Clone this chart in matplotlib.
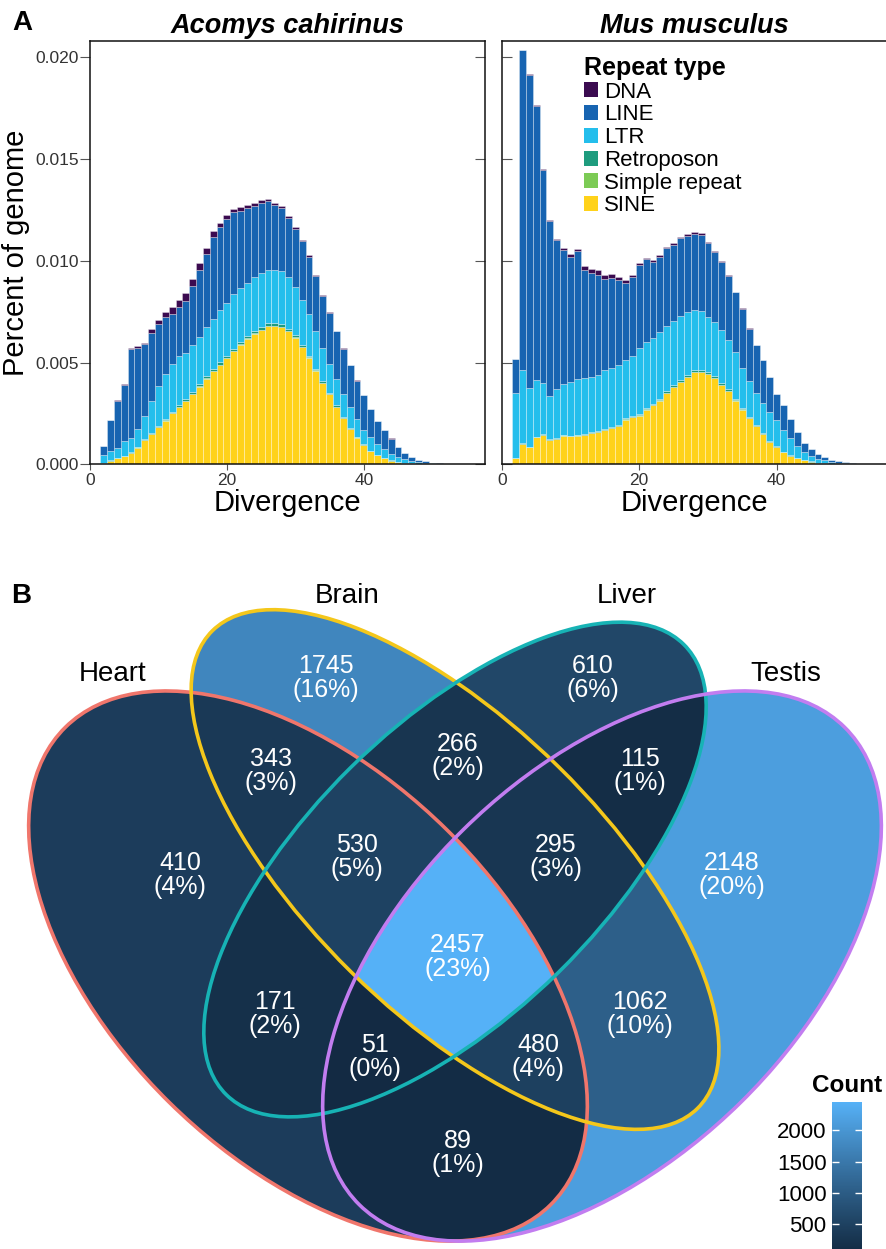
import numpy as np
import matplotlib
matplotlib.use("Agg")
import matplotlib.pyplot as plt
from matplotlib.patches import Ellipse, Patch
from matplotlib.colors import ListedColormap, Normalize

plt.rcParams['font.family'] = ['Liberation Sans', 'DejaVu Sans']

# ---------------- DATA ----------------
divergence = np.arange(2, 56)
repeat_types = ['DNA', 'LINE', 'LTR', 'Retroposon', 'Simple repeat', 'SINE']
species = ['Acomys cahirinus', 'Mus musculus']

# values in units of 1e-3 (fraction of genome), one per divergence bin 2..55
aco_sine = [0.08, 0.18, 0.29, 0.40, 0.56, 0.82, 1.18, 1.50, 1.82, 2.15, 2.50, 2.82, 3.11, 3.44,
            3.82, 4.21, 4.56, 4.89, 5.21, 5.56, 5.88, 6.18, 6.42, 6.61, 6.79, 6.79, 6.74, 6.53,
            6.23, 5.77, 5.24, 4.60, 4.00, 3.44, 2.82, 2.26, 1.74, 1.31, 0.94, 0.65, 0.45, 0.29,
            0.18, 0.11, 0.07, 0.04, 0.03, 0.02, 0.01, 0.01, 0.0, 0.0, 0.0, 0.0]
aco_simple = [0.0, 0.0, 0.0, 0.01, 0.01, 0.01, 0.01, 0.01, 0.01, 0.01, 0.01, 0.01, 0.01, 0.01,
              0.01, 0.01, 0.01, 0.01, 0.01, 0.01, 0.01, 0.01, 0.01, 0.01, 0.01, 0.01, 0.01, 0.01,
              0.01, 0.01, 0.01, 0.01, 0.01, 0.01, 0.01, 0.01, 0.01, 0.01, 0.01, 0.0, 0.0, 0.0,
              0.0, 0.0, 0.0, 0.0, 0.0, 0.0, 0.0, 0.0, 0.0, 0.0, 0.0, 0.0]
aco_retro = [0.0, 0.01, 0.01, 0.02, 0.02, 0.03, 0.04, 0.05, 0.05, 0.06, 0.07, 0.08, 0.08, 0.09,
             0.10, 0.10, 0.11, 0.11, 0.12, 0.12, 0.12, 0.12, 0.12, 0.12, 0.12, 0.12, 0.12, 0.11,
             0.11, 0.10, 0.09, 0.09, 0.08, 0.07, 0.06, 0.05, 0.04, 0.03, 0.03, 0.02, 0.02, 0.01,
             0.01, 0.01, 0.0, 0.0, 0.0, 0.0, 0.0, 0.0, 0.0, 0.0, 0.0, 0.0]
aco_ltr = [0.37, 0.47, 0.52, 0.73, 0.68, 0.89, 1.13, 1.53, 1.97, 2.24, 2.35, 2.39, 2.29, 2.34,
           2.31, 2.43, 2.48, 2.55, 2.59, 2.67, 2.63, 2.62, 2.67, 2.67, 2.65, 2.65, 2.61, 2.55,
           2.37, 2.19, 2.06, 1.84, 1.61, 1.41, 1.28, 1.13, 1.01, 0.89, 0.69, 0.67, 0.55, 0.47,
           0.34, 0.25, 0.17, 0.11, 0.07, 0.04, 0.03, 0.01, 0.01, 0.01, 0.005, 0.005]
aco_line = [0.43, 1.50, 2.31, 2.75, 4.39, 3.98, 3.54, 3.35, 3.03, 2.76, 2.47, 2.41, 2.55, 2.87,
            3.29, 3.58, 3.99, 4.08, 4.12, 4.02, 3.80, 3.64, 3.49, 3.43, 3.35, 3.18, 3.12, 2.92,
            2.84, 2.90, 2.80, 2.69, 2.58, 2.51, 2.36, 2.23, 2.08, 1.87, 1.72, 1.37, 1.11, 0.90,
            0.73, 0.47, 0.31, 0.20, 0.11, 0.08, 0.04, 0.03, 0.02, 0.01, 0.005, 0.005]
aco_dna = [0.02, 0.02, 0.03, 0.03, 0.05, 0.06, 0.08, 0.20, 0.22, 0.27, 0.32, 0.35, 0.37, 0.35,
           0.34, 0.32, 0.29, 0.23, 0.21, 0.16, 0.19, 0.16, 0.14, 0.13, 0.12, 0.11, 0.10, 0.09,
           0.08, 0.07, 0.06, 0.05, 0.04, 0.04, 0.03, 0.03, 0.02, 0.02, 0.02, 0.01, 0.01, 0.01,
           0.01, 0.01, 0.0, 0.0, 0.0, 0.0, 0.0, 0.0, 0.0, 0.0, 0.0, 0.0]

mus_sine = [0.32, 1.00, 0.84, 1.33, 1.44, 1.20, 1.25, 1.41, 1.38, 1.41, 1.44, 1.54, 1.60, 1.68,
            1.76, 1.89, 2.20, 2.31, 2.39, 2.69, 2.89, 3.13, 3.51, 3.79, 4.03, 4.28, 4.52, 4.52,
            4.43, 4.25, 3.90, 3.59, 3.13, 2.69, 2.26, 1.87, 1.50, 1.11, 0.84, 0.59, 0.43, 0.30,
            0.20, 0.13, 0.08, 0.05, 0.03, 0.02, 0.01, 0.01, 0.0, 0.0, 0.0, 0.0]
mus_simple = [0.0, 0.01, 0.01, 0.01, 0.01, 0.01, 0.01, 0.01, 0.01, 0.01, 0.01, 0.01, 0.01, 0.01,
              0.01, 0.01, 0.01, 0.01, 0.01, 0.01, 0.01, 0.01, 0.01, 0.01, 0.01, 0.01, 0.01, 0.01,
              0.01, 0.01, 0.01, 0.01, 0.01, 0.01, 0.01, 0.01, 0.01, 0.01, 0.01, 0.0, 0.0, 0.0,
              0.0, 0.0, 0.0, 0.0, 0.0, 0.0, 0.0, 0.0, 0.0, 0.0, 0.0, 0.0]
mus_retro = [0.01, 0.02, 0.02, 0.02, 0.02, 0.02, 0.02, 0.02, 0.02, 0.03, 0.03, 0.03, 0.03, 0.04,
             0.04, 0.04, 0.05, 0.05, 0.06, 0.07, 0.07, 0.08, 0.08, 0.09, 0.09, 0.10, 0.10, 0.10,
             0.10, 0.09, 0.09, 0.08, 0.07, 0.06, 0.05, 0.04, 0.04, 0.03, 0.03, 0.02, 0.02, 0.01,
             0.01, 0.01, 0.0, 0.0, 0.0, 0.0, 0.0, 0.0, 0.0, 0.0, 0.0, 0.0]
mus_ltr = [3.19, 3.60, 2.88, 2.78, 2.54, 2.12, 2.40, 2.52, 2.63, 2.75, 2.76, 2.72, 2.77, 2.89,
           2.92, 2.95, 2.85, 2.94, 3.25, 3.24, 3.24, 3.29, 3.21, 3.17, 3.18, 3.07, 2.93, 2.90,
           2.72, 2.66, 2.61, 2.43, 2.30, 1.95, 1.79, 1.59, 1.46, 1.41, 1.28, 1.09, 0.85, 0.61,
           0.41, 0.28, 0.20, 0.14, 0.09, 0.06, 0.04, 0.02, 0.02, 0.01, 0.005, 0.005]
mus_line = [1.65, 15.71, 15.38, 13.47, 10.47, 8.60, 7.34, 6.57, 6.17, 6.27, 5.32, 5.09, 4.90, 4.47,
            4.40, 4.15, 3.80, 3.88, 4.07, 4.07, 3.75, 3.70, 3.82, 3.73, 3.81, 3.78, 3.78, 3.76,
            3.63, 3.44, 3.34, 3.16, 2.95, 2.93, 2.55, 2.34, 2.10, 1.73, 1.29, 1.19, 0.92, 0.67,
            0.44, 0.35, 0.24, 0.17, 0.11, 0.07, 0.04, 0.02, 0.01, 0.01, 0.005, 0.005]
mus_dna = [0.02, 0.03, 0.03, 0.03, 0.03, 0.04, 0.06, 0.08, 0.10, 0.12, 0.18, 0.22, 0.22, 0.20,
           0.20, 0.18, 0.15, 0.12, 0.10, 0.08, 0.08, 0.08, 0.07, 0.07, 0.07, 0.06, 0.06, 0.06,
           0.05, 0.05, 0.04, 0.04, 0.03, 0.03, 0.03, 0.02, 0.02, 0.02, 0.01, 0.01, 0.01, 0.01,
           0.01, 0.0, 0.0, 0.0, 0.0, 0.0, 0.0, 0.0, 0.0, 0.0, 0.0, 0.0]

y_ticks = [0.000, 0.005, 0.010, 0.015, 0.020]
x_ticks = [0, 20, 40]

venn_sets = ['Heart', 'Brain', 'Liver', 'Testis']
venn_letters = ['H', 'B', 'L', 'T']
region_keys = ['H', 'B', 'L', 'T', 'HB', 'BL', 'LT', 'HL', 'BT', 'HT',
               'HBL', 'BLT', 'HLT', 'HBT', 'HBLT']
region_counts = [410, 1745, 610, 2148, 343, 266, 115, 171, 1062, 89,
                 530, 295, 51, 480, 2457]
cbar_ticks = [500, 1000, 1500, 2000]

# ---------------- STYLE / LAYOUT ----------------
type_colors = {'DNA': '#3B0B50', 'LINE': '#1764B1', 'LTR': '#24BEEC',
               'Retroposon': '#1E9C7E', 'Simple repeat': '#7CCB55', 'SINE': '#FFD21A'}
set_colors = ['#F0766C', '#F4C71B', '#17B3B5', '#C27DF0']
# ellipse geometry (unit square): cx, cy, semi-major, semi-minor, angle
ellipse_geom = [(0.35, 0.47, 0.35, 0.20, 135),
                (0.50, 0.57, 0.35, 0.15, 135),
                (0.50, 0.57, 0.33, 0.15, 45),
                (0.65, 0.47, 0.35, 0.20, 45)]

W, H = 887, 1249
fig = plt.figure(figsize=(W / 100, H / 100), dpi=100)


def ax_rect(x0, y0, x1, y1):
    return [x0 / W, 1 - y1 / H, (x1 - x0) / W, (y1 - y0) / H]


tick_col = '#333333'
mark_col = '#555555'
panels = [
    (ax_rect(90, 41, 485, 464.3), 57.7,
     [aco_sine, aco_simple, aco_retro, aco_ltr, aco_line, aco_dna], True),
    (ax_rect(501.7, 41, 886.7, 464.3), 56.0,
     [mus_sine, mus_simple, mus_retro, mus_ltr, mus_line, mus_dna], False),
]
stack_order = ['SINE', 'Simple repeat', 'Retroposon', 'LTR', 'LINE', 'DNA']
axes_hist = []
for (rect, xmax, series, first), name in zip(panels, species):
    ax = fig.add_axes(rect)
    bottom = np.zeros(len(divergence))
    for rtype, vals in zip(stack_order, series):
        v = np.asarray(vals) * 1e-3
        ax.bar(divergence, v, bottom=bottom, width=1.0, color=type_colors[rtype],
               edgecolor=(1, 1, 1, 0.45), linewidth=0.5)
        bottom = bottom + v
    ax.set_xlim(0, xmax)
    ax.set_ylim(0, 0.0208)
    ax.set_yticks(y_ticks)
    ax.set_xticks(x_ticks)
    for sp in ax.spines.values():
        sp.set_linewidth(1.1)
        sp.set_color('#111111')
    ax.tick_params(axis='x', direction='out', length=4, color=mark_col,
                   labelsize=12.5, labelcolor=tick_col, pad=2)
    if first:
        ax.set_yticklabels(['%.3f' % t for t in y_ticks])
        ax.tick_params(axis='y', left=True, right=False, direction='out',
                       length=7, color=mark_col, labelsize=12.5, labelcolor=tick_col, pad=1)
        ax.set_ylabel('Percent of genome', fontsize=21, labelpad=4)
        sec = ax.secondary_yaxis('right')
        sec.set_yticks(y_ticks)
        sec.tick_params(axis='y', direction='in', length=7, color=mark_col,
                        labelright=False)
        sec.spines['right'].set_visible(False)
    else:
        ax.tick_params(axis='y', left=True, right=False, labelleft=False,
                       direction='in', length=7, color=mark_col)
    ax.set_xlabel('Divergence', fontsize=21, labelpad=1)
    ax.set_title(name, fontsize=19.5, style='italic', fontweight='bold', pad=6)
    axes_hist.append(ax)

handles = [Patch(facecolor=type_colors[t], edgecolor='none') for t in repeat_types]
leg = axes_hist[1].legend(handles, repeat_types, loc='upper left',
                          bbox_to_anchor=(0.213, 0.965), frameon=False, fontsize=16,
                          title='Repeat type',
                          title_fontproperties={'weight': 'bold', 'size': 18},
                          handlelength=0.65, handleheight=0.65, handletextpad=0.25,
                          labelspacing=0.08, borderpad=0, borderaxespad=0,
                          alignment='left')

fig.text(12 / W, 1 - 23 / H, 'A', fontsize=20, fontweight='bold', va='center', ha='left')
fig.text(11 / W, 1 - 596 / H, 'B', fontsize=20, fontweight='bold', va='center', ha='left')

# ---------------- VENN ----------------
def px2x(px):
    return 0.5 + (px - 455) / 980.0


def px2y(py):
    return 0.755 - (py - 691) / 965.0


vx0, vx1 = px2x(0), px2x(W)
vy0, vy1 = px2y(H), px2y(575)
axv = fig.add_axes(ax_rect(0, 575, W, H))
axv.set_xlim(vx0, vx1)
axv.set_ylim(vy0, vy1)
axv.axis('off')

# ggplot-like Lab gradient
_M = np.array([[0.4124564, 0.3575761, 0.1804375],
               [0.2126729, 0.7151522, 0.0721750],
               [0.0193339, 0.1191920, 0.9503041]])
_wp = np.array([0.95047, 1.0, 1.08883])


def srgb_to_lab(c):
    c = np.asarray(c, float)
    lin = np.where(c <= 0.04045, c / 12.92, ((c + 0.055) / 1.055) ** 2.4)
    t = (_M @ lin) / _wp
    d = 6 / 29
    f = np.where(t > d ** 3, np.cbrt(t), t / (3 * d * d) + 4 / 29)
    return np.array([116 * f[1] - 16, 500 * (f[0] - f[1]), 200 * (f[1] - f[2])])


def lab_to_srgb(lab):
    L, a, b = lab
    fy = (L + 16) / 116
    f = np.array([fy + a / 500, fy, fy - b / 200])
    d = 6 / 29
    t = np.where(f > d, f ** 3, 3 * d * d * (f - 4 / 29))
    lin = np.linalg.inv(_M) @ (t * _wp)
    lin = np.clip(lin, 0, None)
    c = np.where(lin <= 0.0031308, 12.92 * lin, 1.055 * lin ** (1 / 2.4) - 0.055)
    return np.clip(c, 0, 1)


lo = srgb_to_lab(np.array([0x13, 0x2B, 0x43]) / 255)
hi = srgb_to_lab(np.array([0x56, 0xB1, 0xF7]) / 255)
cmap = ListedColormap([lab_to_srgb(lo + (hi - lo) * s) for s in np.linspace(0, 1, 256)])
norm = Normalize(vmin=min(region_counts), vmax=max(region_counts))

gx = np.linspace(vx0, vx1, 2200)
gy = np.linspace(vy0, vy1, 1700)
XX, YY = np.meshgrid(gx, gy)
code = np.zeros(XX.shape, dtype=int)
for i, (cx, cy, a, b, ang) in enumerate(ellipse_geom):
    t = np.deg2rad(ang)
    dx, dy = XX - cx, YY - cy
    p = dx * np.cos(t) + dy * np.sin(t)
    q = -dx * np.sin(t) + dy * np.cos(t)
    code |= (((p / a) ** 2 + (q / b) ** 2) <= 1).astype(int) << i
lookup = np.full(16, np.nan)
for key, cnt in zip(region_keys, region_counts):
    lookup[sum(1 << venn_letters.index(ch) for ch in key)] = cnt
img = np.ma.masked_invalid(lookup[code])
im = axv.imshow(img, extent=(vx0, vx1, vy0, vy1), origin='lower', cmap=cmap, norm=norm,
                interpolation='nearest', aspect='auto', zorder=1)

for (cx, cy, a, b, ang), col in zip(ellipse_geom, set_colors):
    axv.add_patch(Ellipse((cx, cy), 2 * a, 2 * b, angle=ang, fill=False,
                          edgecolor=col, linewidth=2.6, zorder=3))

# label positions (px) for each region
label_px = {'H': (180, 875), 'B': (326, 678), 'L': (593, 678), 'T': (732, 875),
            'HB': (271, 771), 'BL': (458, 756), 'LT': (640, 771), 'HL': (275, 1014),
            'BT': (640, 1014), 'HT': (458, 1153), 'HBL': (357, 857), 'BLT': (556, 857),
            'HLT': (375, 1057), 'HBT': (538, 1057), 'HBLT': (458, 957)}
total = sum(region_counts)
for key, cnt in zip(region_keys, region_counts):
    px, py = label_px[key]
    axv.text(px2x(px), px2y(py), '%d\n(%d%%)' % (cnt, round(100 * cnt / total)),
             ha='center', va='center', color='white', fontsize=18, linespacing=1.05,
             zorder=4)

set_label_px = [(113, 674), (347, 596), (627, 596), (786, 674)]
for name, (px, py) in zip(venn_sets, set_label_px):
    axv.text(px2x(px), px2y(py), name, ha='center', va='center', fontsize=20,
             color='black', zorder=4)

# colorbar
cax = fig.add_axes(ax_rect(832, 1102, 862, 1252))
cb = fig.colorbar(im, cax=cax, ticks=cbar_ticks)
cb.outline.set_visible(False)
cax.yaxis.set_ticks_position('both')
cax.tick_params(axis='y', direction='in', color='white', length=5, width=1,
                left=True, right=True, labelleft=True, labelright=False,
                labelsize=16, labelcolor='black', pad=4)
fig.text(847 / W, 1 - 1085 / H, 'Count', fontsize=17.5, fontweight='bold',
         ha='center', va='center')

fig.savefig('out.png', dpi=100)
